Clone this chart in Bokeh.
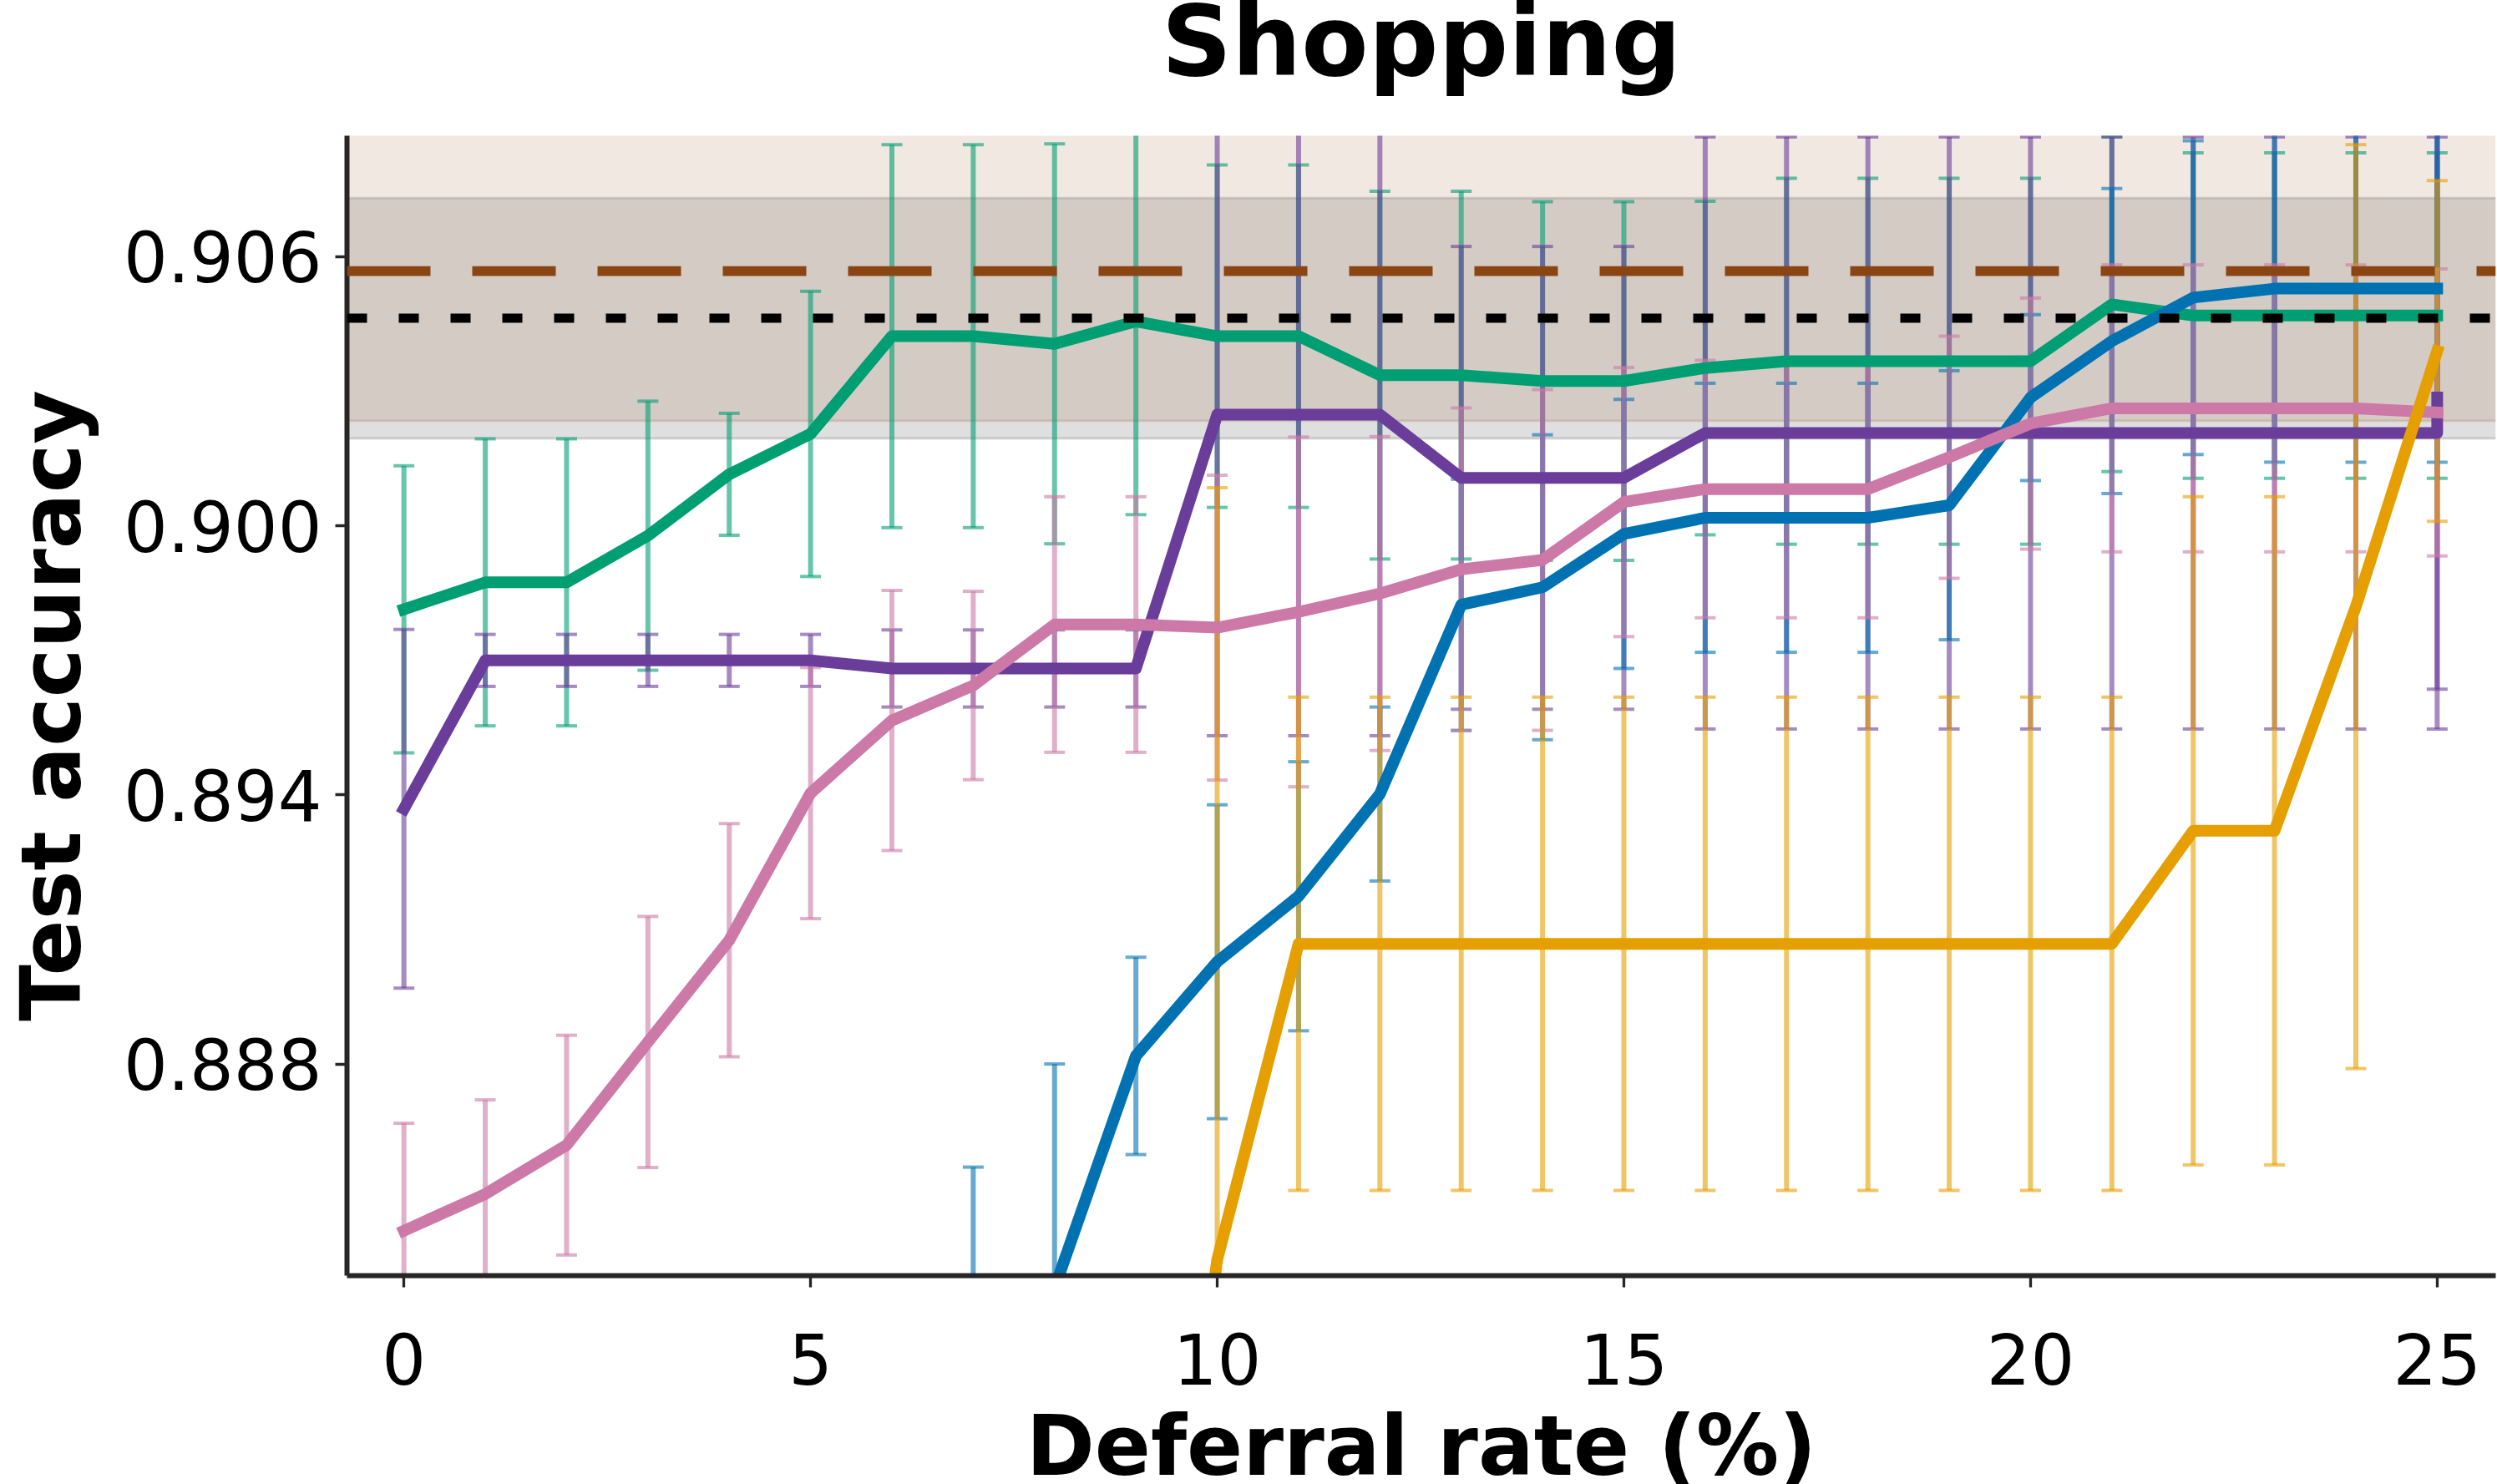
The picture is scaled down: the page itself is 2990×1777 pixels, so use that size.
from bokeh.plotting import figure
from bokeh.models import Range1d, FixedTicker, PrintfTickFormatter, BoxAnnotation, Span, Title
from bokeh.embed import file_html
from bokeh.resources import INLINE

# ---- data -------------------------------------------------------------
deferral = list(range(26))

green_x = deferral
green_acc = [0.89814, 0.89874, 0.89874, 0.89978, 0.90115, 0.90205, 0.90423, 0.90423, 0.90406, 0.90456,
             0.90423, 0.90423, 0.90336, 0.90336, 0.90323, 0.90323, 0.90352, 0.90367, 0.90367, 0.90367,
             0.90367, 0.90494, 0.90469, 0.90469, 0.90469, 0.90469]
green_std = [0.0032, 0.0032, 0.0032, 0.0030, 0.00136, 0.00318, 0.00427, 0.00427, 0.00446, 0.00431,
             0.00382, 0.00382, 0.0041, 0.0041, 0.0040, 0.0040, 0.00372, 0.00408, 0.00408, 0.00408,
             0.00408, 0.00373, 0.00363, 0.00363, 0.00363, 0.00363]

purple_x = deferral + [25]
purple_acc = [0.89369, 0.89700, 0.89700, 0.89700, 0.89700, 0.89700, 0.89682, 0.89682, 0.89682, 0.89682,
              0.90248, 0.90248, 0.90248, 0.90107, 0.90107, 0.90107, 0.90207, 0.90207, 0.90207, 0.90207,
              0.90207, 0.90207, 0.90207, 0.90207, 0.90207, 0.90207, 0.90286]
purple_std = [0.0040, 0.00058, 0.00058, 0.00058, 0.00058, 0.00058, 0.00086, 0.00086, 0.00086, 0.00086,
              0.00716, 0.00716, 0.00716, 0.00516, 0.00516, 0.00516, 0.0066, 0.0066, 0.0066, 0.0066,
              0.0066, 0.0066, 0.0066, 0.0066, 0.0066, 0.0066, 0.0065]

pink_x = deferral
pink_acc = [0.88428, 0.88510, 0.88619, 0.88849, 0.89076, 0.89404, 0.89566, 0.89644, 0.89780, 0.89780,
            0.89773, 0.89808, 0.89849, 0.89903, 0.89924, 0.90053, 0.90082, 0.90082, 0.90082, 0.90153,
            0.90228, 0.90262, 0.90262, 0.90262, 0.90262, 0.90253]
pink_std = [0.0024, 0.0021, 0.00245, 0.0028, 0.0026, 0.0028, 0.0029, 0.0021, 0.00285, 0.00285,
            0.0034, 0.0039, 0.0035, 0.0036, 0.0038, 0.0030, 0.00287, 0.00287, 0.00287, 0.0027,
            0.0028, 0.0032, 0.0032, 0.0032, 0.0032, 0.0032]

blue_x = deferral[7:]
blue_acc = [0.8810, 0.8830, 0.88818, 0.89028, 0.89174, 0.89402, 0.89824, 0.89863, 0.89982, 0.90018,
            0.90018, 0.90018, 0.90046, 0.90286, 0.90412, 0.90509, 0.90529, 0.90529, 0.90529]
blue_std = [0.0047, 0.0050, 0.0022, 0.0035, 0.0030, 0.00194, 0.0028, 0.0034, 0.0030, 0.0030,
            0.0030, 0.0030, 0.0030, 0.00185, 0.0034, 0.0035, 0.00387, 0.00387, 0.00387]

orange_x = deferral[9:]
orange_acc = [0.8700, 0.88364, 0.89068, 0.89068, 0.89068, 0.89068, 0.89068, 0.89068, 0.89068, 0.89068,
              0.89068, 0.89068, 0.89068, 0.8932, 0.8932, 0.8982, 0.9039]
orange_std = [0.0040, 0.01721, 0.0055, 0.0055, 0.0055, 0.0055, 0.0055, 0.0055, 0.0055, 0.0055,
              0.0055, 0.0055, 0.0055, 0.00745, 0.00745, 0.0103, 0.0038]

# horizontal references (mean +/- std)
base_mean, base_std = 0.90568, 0.00334
ref_mean, ref_std = 0.90463, 0.00268

x_ticks = [0, 5, 10, 15, 20, 25]
y_ticks = [0.888, 0.894, 0.900, 0.906]

series = [
    (green_x, green_acc, green_std, "#009E73"),
    (purple_x, purple_acc, purple_std, "#6A3D9A"),
    (blue_x, blue_acc, blue_std, "#0072B2"),
    (pink_x, pink_acc, pink_std, "#CC79A7"),
    (orange_x, orange_acc, orange_std, "#E69F00"),
]

# ---- figure -----------------------------------------------------------
W, H = 2990, 1777
LEFT, RIGHT, TOP, BOTTOM = 412, 2, 162, 250

p = figure(width=W, height=H, output_backend="svg", toolbar_location=None,
           x_range=Range1d(-0.70, 25.72), y_range=Range1d(0.88328, 0.9087),
           min_border_left=LEFT, min_border_right=RIGHT,
           min_border_top=TOP, min_border_bottom=BOTTOM,
           title=None)
p.grid.visible = False
p.outline_line_color = None
p.background_fill_color = "white"
p.border_fill_color = "white"

# shaded bands
p.add_layout(BoxAnnotation(bottom=ref_mean - ref_std, top=ref_mean + ref_std,
                           fill_color="gray", fill_alpha=0.25, line_color=None, level="underlay"))
p.add_layout(BoxAnnotation(bottom=base_mean - base_std, top=base_mean + base_std,
                           fill_color="#8B4513", fill_alpha=0.12, line_color=None, level="underlay"))
for loc in (ref_mean - ref_std, ref_mean + ref_std):
    p.add_layout(Span(location=loc, dimension="width", line_color="gray", line_alpha=0.3,
                      line_width=3, level="underlay"))
p.add_layout(Span(location=base_mean - base_std, dimension="width", line_color="#8B4513",
                  line_alpha=0.15, line_width=3, level="underlay"))

# error bars
for xs, acc, std, color in series:
    lo = [a - s for a, s in zip(acc, std)]
    hi = [a + s for a, s in zip(acc, std)]
    p.segment(x0=xs, y0=lo, x1=xs, y1=hi, line_color=color, line_alpha=0.6, line_width=6)
    p.scatter(x=list(xs) + list(xs), y=lo + hi, marker="dash", size=25,
              line_color=color, line_alpha=0.6, line_width=4)

# mean curves
for xs, acc, std, color in series:
    p.line(xs, acc, line_color=color, line_width=14, line_join="round", line_cap="square")

# reference lines
p.add_layout(Span(location=base_mean, dimension="width", line_color="#8B4513",
                  line_width=11.6, line_dash="100 50"))
p.add_layout(Span(location=ref_mean, dimension="width", line_color="black",
                  line_width=11, line_dash="24 38"))

# axes
p.xaxis.ticker = FixedTicker(ticks=x_ticks)
p.yaxis.ticker = FixedTicker(ticks=y_ticks)
p.yaxis.formatter = PrintfTickFormatter(format="%.3f")
for ax in (p.xaxis[0], p.yaxis[0]):
    ax.axis_line_width = 6
    ax.axis_line_color = "#262626"
    ax.major_tick_line_width = 3.3
    ax.major_tick_line_color = "#262626"
    ax.major_tick_out = 14
    ax.major_tick_in = 0
    ax.minor_tick_out = 0
    ax.minor_tick_in = 0
    ax.major_label_text_font = "DejaVu Sans"
    ax.major_label_text_font_size = "83px"
    ax.major_label_text_color = "black"
p.xaxis.major_label_standoff = 54
p.yaxis.major_label_standoff = 16

yax = p.yaxis[0]
yax.axis_label = "Test accuracy"
yax.axis_label_text_font = "DejaVu Sans"
yax.axis_label_text_font_size = "99px"
yax.axis_label_text_font_style = "bold"
yax.axis_label_text_color = "black"
yax.axis_label_standoff = 26

# x-axis caption: a spacer panel below the tick labels, then the bold caption
p.add_layout(Title(text=" ", text_font_size="1px", standoff=67), "below")
p.add_layout(Title(text="Deferral rate (%)", text_font="DejaVu Sans", text_font_size="99px",
                   text_font_style="bold", text_color="black", align="center",
                   vertical_align="top", standoff=-113), "below")

# plot title: spacer next to the frame, then the title itself
p.add_layout(Title(text=" ", text_font_size="1px", standoff=85), "above")
p.add_layout(Title(text="Shopping", text_font="DejaVu Sans", text_font_size="117px",
                   text_font_style="bold", text_color="black", align="center",
                   vertical_align="top", standoff=-90), "above")

open("out.html", "w").write(file_html(p, INLINE))
